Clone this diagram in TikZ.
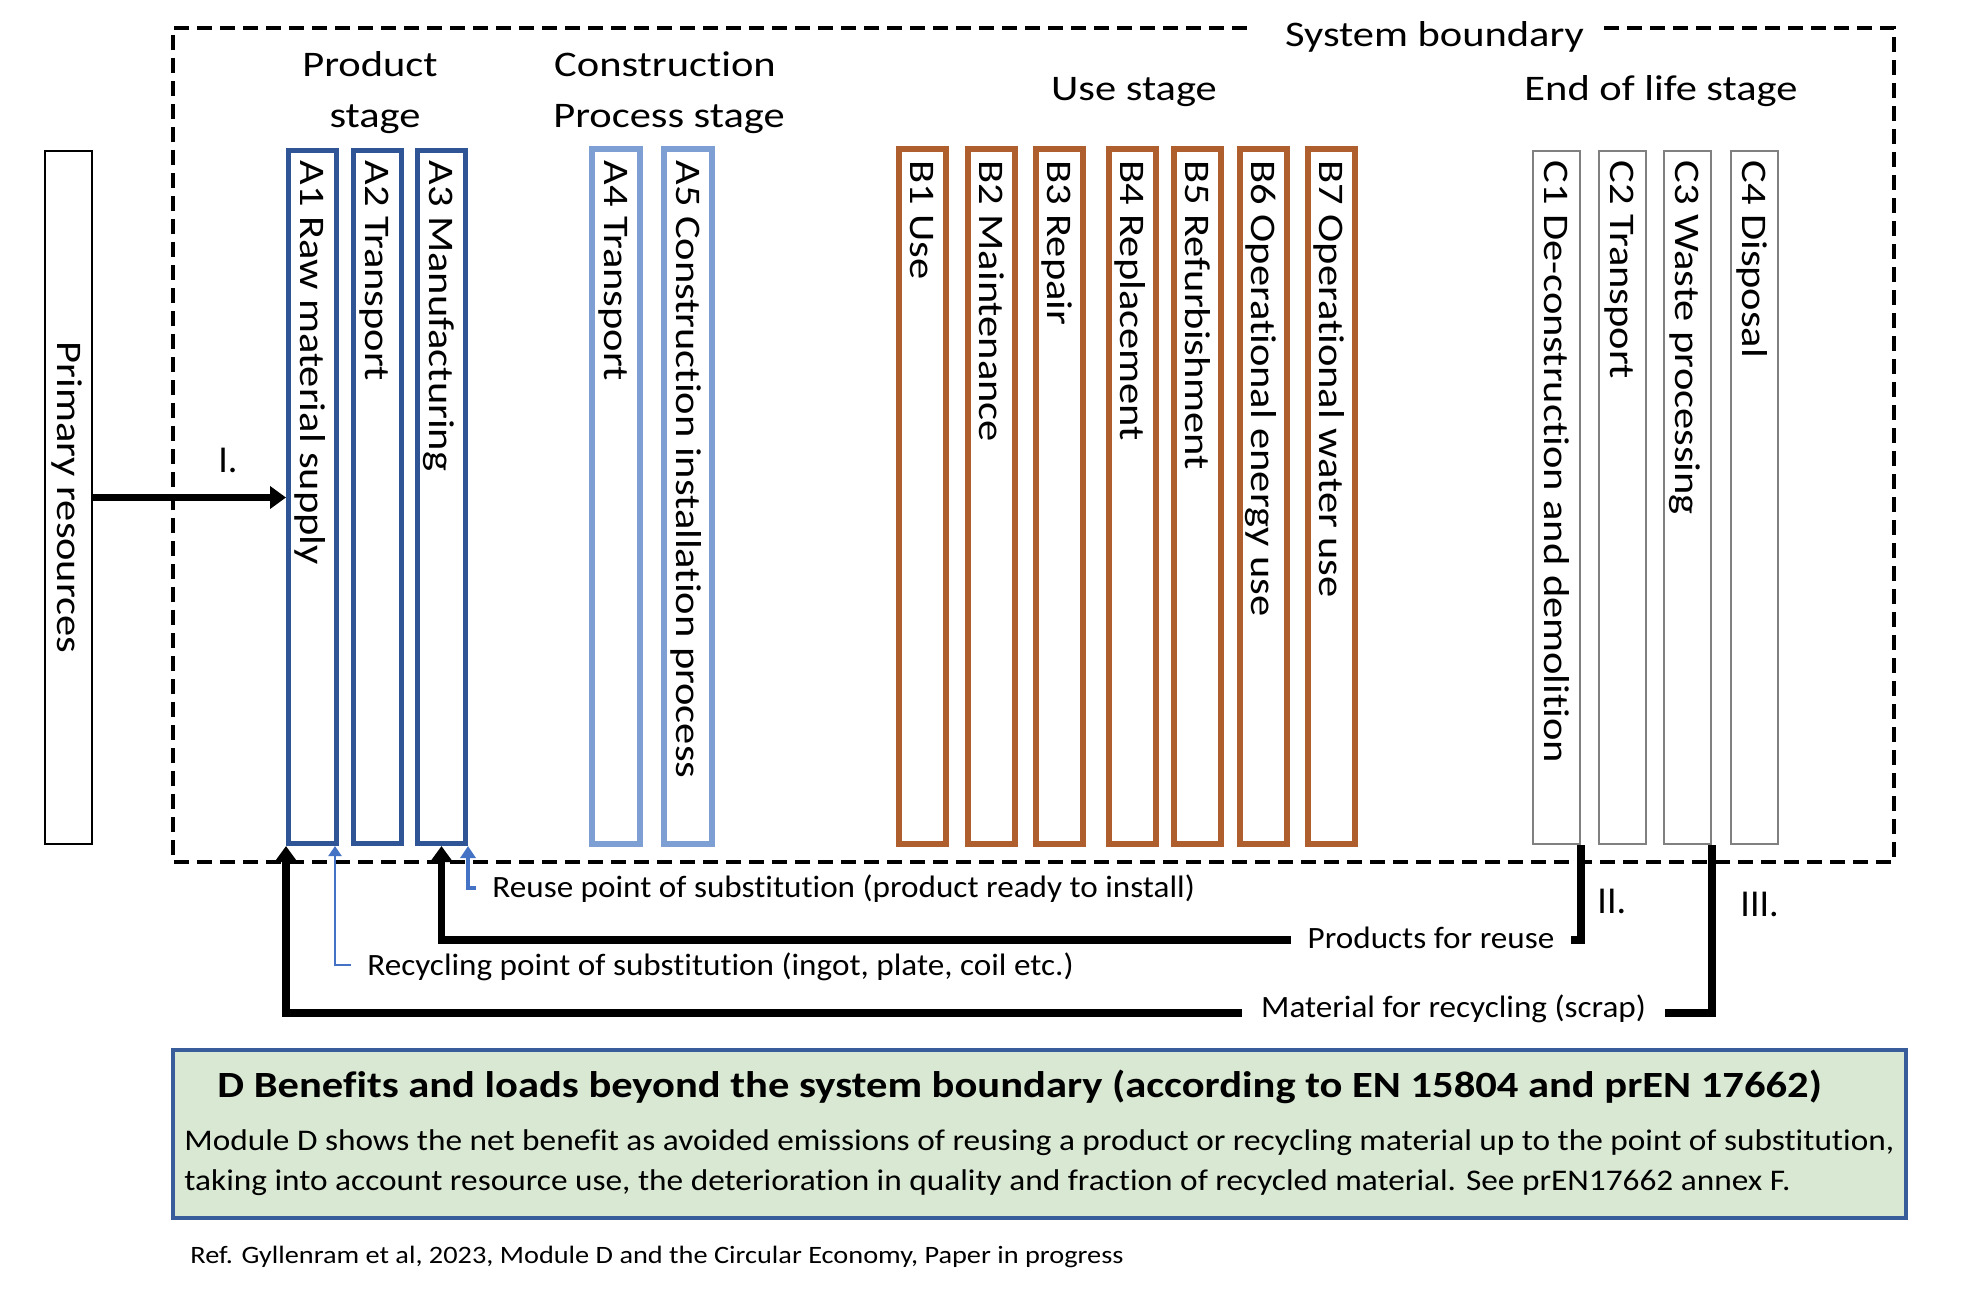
\documentclass[tikz,border=0pt]{standalone}
\usepackage{fontspec}
\setmainfont{Carlito}[Ligatures=NoCommon]
\usetikzlibrary{arrows.meta,calc}
\definecolor{adark}{HTML}{2F5597}
\definecolor{alight}{HTML}{7E9FD3}
\definecolor{bbrown}{HTML}{AF5F2E}
\definecolor{cgray}{HTML}{808080}
\definecolor{arrblue}{HTML}{4472C4}
\definecolor{dfill}{HTML}{D9E8D3}
\definecolor{dline}{HTML}{385D9A}
\newcommand{\hstr}[2]{\scalebox{#1}[1]{#2}}
\newcommand{\fitto}[2]{\resizebox{#1}{\height}{#2}}
\begin{document}
\begin{tikzpicture}[x=0.5pt,y=-0.5pt,
  stagehead/.style={font=\fontsize{18}{22}\selectfont, inner sep=0pt, anchor=base},
  collab/.style={font=\fontsize{18}{22}\selectfont, inner sep=0pt, rotate=-90, anchor=base west},
  lowlab/.style={font=\fontsize{15.5}{19}\selectfont, inner sep=0pt},
  romlab/.style={font=\fontsize{19}{23}\selectfont, inner sep=0pt, anchor=base west},
  stageA/.style={draw=adark, line width=2.5pt, minimum width=24pt, minimum height=346.5pt},
  stageL/.style={draw=alight, line width=3.2pt, minimum width=23.8pt, minimum height=347.3pt},
  stageB/.style={draw=bbrown, line width=3pt, minimum width=23.5pt, minimum height=347.5pt},
  stageC/.style={draw=cgray, line width=1pt, minimum width=23.5pt, minimum height=346.5pt},
  primbox/.style={draw=black, line width=1.2pt, minimum width=23.3pt, minimum height=346.3pt},
  boundary/.style={draw=black, line width=1.75pt, dash pattern=on 7.5pt off 4pt},
  flow/.style={draw=black, line width=3.6pt, -{Triangle[width=11pt,length=8pt]}},
  thinblue/.style={draw=arrblue, line width=1pt, -{Triangle[width=6.5pt,length=5pt]}},
  thickblue/.style={draw=arrblue, line width=2.2pt, -{Triangle[width=7.5pt,length=6pt]}},
  dbox/.style={draw=dline, fill=dfill, line width=2pt, minimum width=866.5pt, minimum height=84pt},
  dtext/.style={inner sep=0pt, anchor=base west}
]
\useasboundingbox (0,0) rectangle (1979,1297);
\fill[white] (0,0) rectangle (1979,1297);

% system boundary
\node[stagehead] (sys) at (1434.5,46) {\hstr{1.18}{System boundary}};
\coordinate (bndL) at (1251,28);
\coordinate (bndR) at (1604,28);
\draw[boundary] (bndR) -- (1894,28) -- (1894,862) -- (173,862) -- (173,28) -- (bndL);

% stage headings
\node[stagehead] (hprod1) at (370,76) {\hstr{1.18}{Product}};
\node[stagehead] (hprod2) at (375,127) {\hstr{1.18}{stage}};
\node[stagehead] (hcon1) at (665,76) {\hstr{1.18}{Construction}};
\node[stagehead] (hcon2) at (669,127) {\hstr{1.18}{Process stage}};
\node[stagehead] (huse) at (1134,100) {\hstr{1.18}{Use stage}};
\node[stagehead] (heol) at (1661,100) {\hstr{1.18}{End of life stage}};

% primary resources
\node[primbox] (prim) at (68.5,497.5) {};
\node[font=\fontsize{18}{22}\selectfont, inner sep=0pt, rotate=-90, anchor=base] (primlab) at (57,497.5) {\hstr{1.18}{Primary resources}};

% A modules
\node[stageA] (A1) at (312.5,497) {};
\node[collab] at (300.9,160) {\hstr{1.18}{A1 Raw material supply}};
\node[stageA] (A2) at (377,497) {};
\node[collab] at (365.4,160) {\hstr{1.18}{A2 Transport}};
\node[stageA] (A3) at (441.5,497) {};
\node[collab] at (429.9,160) {\hstr{1.18}{A3 Manufacturing}};
\node[stageL] (A4) at (616,496.5) {};
\node[collab] at (604.4,160) {\hstr{1.18}{A4 Transport}};
\node[stageL] (A5) at (688,496.5) {};
\node[collab] at (676.4,160) {\hstr{1.18}{A5 Construction installation process}};

% B modules
\node[stageB] (B1) at (922,496.5) {};
\node[collab] at (910.4,160) {\hstr{1.18}{B1 Use}};
\node[stageB] (B2) at (991.5,496.5) {};
\node[collab] at (979.9,160) {\hstr{1.18}{B2 Maintenance}};
\node[stageB] (B3) at (1059.5,496.5) {};
\node[collab] at (1047.9,160) {\hstr{1.18}{B3 Repair}};
\node[stageB] (B4) at (1132,496.5) {};
\node[collab] at (1120.4,160) {\hstr{1.18}{B4 Replacement}};
\node[stageB] (B5) at (1197.5,496.5) {};
\node[collab] at (1185.9,160) {\hstr{1.18}{B5 Refurbishment}};
\node[stageB] (B6) at (1263.5,496.5) {};
\node[collab] at (1251.9,160) {\hstr{1.18}{B6 Operational energy use}};
\node[stageB] (B7) at (1331,496.5) {};
\node[collab] at (1319.4,160) {\hstr{1.18}{B7 Operational water use}};

% C modules
\node[stageC] (C1) at (1556.5,497.5) {};
\node[collab] at (1544.9,160) {\hstr{1.18}{C1 De-construction and demolition}};
\node[stageC] (C2) at (1622.5,497.5) {};
\node[collab] at (1610.9,160) {\hstr{1.18}{C2 Transport}};
\node[stageC] (C3) at (1687.5,497.5) {};
\node[collab] at (1675.9,160) {\hstr{1.18}{C3 Waste processing}};
\node[stageC] (C4) at (1754.5,497.5) {};
\node[collab] at (1742.9,160) {\hstr{1.18}{C4 Disposal}};

% flows
\draw[flow] (prim.east) -- (prim.east -| A1.west);
\coordinate (reuseY) at (0,940);
\coordinate (recY) at (0,1013);
\draw[flow] (C1.south east) -- (C1.south east |- reuseY) -- (A3.south |- reuseY) -- (A3.south);
\draw[flow] (C3.south east) -- (C3.south east |- recY) -- (A1.south west |- recY) -- (A1.south west);

\coordinate (reustub) at (476,888);
\coordinate (recstub) at (351,965);
\draw[thickblue] (reustub) -| (A3.south east);
\draw[thinblue] (recstub) -| ([xshift=-2pt]A1.south east);

% flow labels
\node[romlab] (r1) at (218,472) {I.};
\node[romlab] (r2) at (1597,913) {II.};
\node[romlab] (r3) at (1740,916) {III.};
\node[lowlab, anchor=base west] (reulab) at (492,897) {\hstr{1.07}{Reuse point of substitution (product ready to install)}};
\node[lowlab, anchor=base west] (reclab) at (367,975) {\hstr{1.07}{Recycling point of substitution (ingot, plate, coil etc.)}};
\node[lowlab, anchor=base, fill=white, inner xsep=8.5pt, inner ysep=2pt] (prodlab) at (1431,948) {\hstr{1.07}{Products for reuse}};
\node[lowlab, anchor=base, fill=white, inner xsep=9.5pt, inner ysep=2pt] (matlab) at (1453.5,1017) {\hstr{1.07}{Material for recycling (scrap)}};

% module D
\node[dbox] (D) at (1039.5,1134) {};
\node[dtext, font=\fontsize{18.5}{22}\selectfont\bfseries] (dtitle) at (217,1097) {\fitto{802pt}{D Benefits and loads beyond the system boundary (according to EN 15804 and prEN 17662)}};
\node[dtext, font=\fontsize{15}{18}\selectfont] (dl1) at (184,1150) {\fitto{855pt}{Module D shows the net benefit as avoided emissions of reusing a product or recycling material up to the point of substitution,}};
\node[dtext, font=\fontsize{15}{18}\selectfont] (dl2) at (184,1190) {\fitto{803pt}{taking into account resource use, the deterioration in quality and fraction of recycled material. See prEN17662 annex F.}};
\node[dtext, font=\fontsize{12.5}{15}\selectfont] (ref) at (190,1263) {\fitto{466.5pt}{Ref. Gyllenram et al, 2023, Module D and the Circular Economy, Paper in progress}};
\end{tikzpicture}
\end{document}
